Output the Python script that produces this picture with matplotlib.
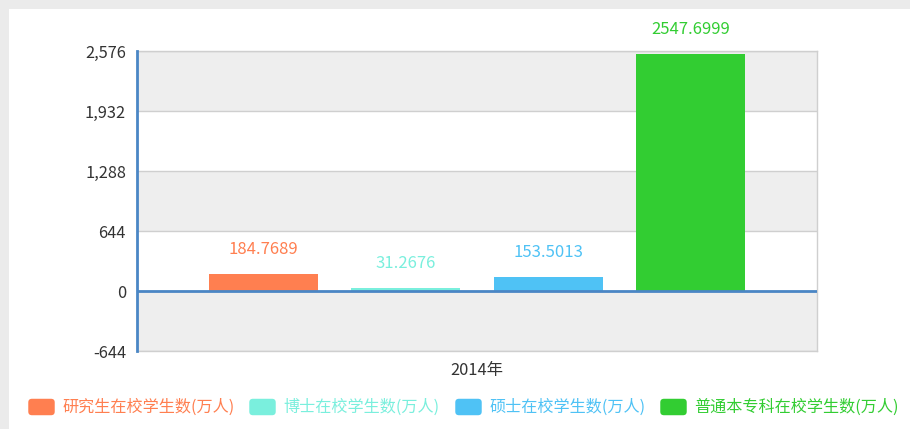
import matplotlib
matplotlib.use("Agg")
import matplotlib.pyplot as plt
from matplotlib.patches import FancyBboxPatch, Rectangle
from matplotlib.ticker import FuncFormatter

plt.rcParams['font.family'] = ['Noto Sans CJK SC', 'DejaVu Sans']

category = "2014年"
series_names = ["研究生在校学生数(万人)", "博士在校学生数(万人)", "硕士在校学生数(万人)", "普通本专科在校学生数(万人)"]
values = [184.7689, 31.2676, 153.5013, 2547.6999]
value_labels = ["184.7689", "31.2676", "153.5013", "2547.6999"]
colors = ["#ff7f50", "#7aefdd", "#4fc2f5", "#32cd32"]
y_ticks = [-644, 0, 644, 1288, 1932, 2576]

W, H = 910, 429
fig = plt.figure(figsize=(W / 100, H / 100), dpi=100)
fig.patch.set_facecolor("#ebebeb")
fig.patches.append(Rectangle((9 / W, 0), 1, (H - 9) / H, transform=fig.transFigure,
                             facecolor="white", edgecolor="none", zorder=-5))

x0, x1, yt, yb = 137, 817, 51, 351
ax = fig.add_axes([x0 / W, (H - yb) / H, (x1 - x0) / W, (yb - yt) / H])
ax.set_facecolor("white")

# alternating bands
for i in range(len(y_ticks) - 1):
    if (len(y_ticks) - 2 - i) % 2 == 0:
        ax.axhspan(y_ticks[i], y_ticks[i + 1], color="#eeeeee", zorder=0, lw=0)
for t in y_ticks:
    ax.axhline(t, color="#cfcfcf", lw=1, zorder=1)

n = len(values)
pos = [i - (n - 1) / 2 for i in range(n)]
width = 0.765
ax.bar(pos, values, width=width, color=colors, zorder=2)
for p, v, lab, c in zip(pos, values, value_labels, colors):
    ax.annotate(lab, (p, v), xytext=(0, 17.5), textcoords="offset points",
                ha="center", va="center", color=c, fontsize=12)

ax.axhline(0, color="#4a86c5", lw=2, zorder=3)
ax.set_xlim(-2.386, 2.386)
ax.set_ylim(y_ticks[0], y_ticks[-1])
ax.set_yticks(y_ticks)
ax.yaxis.set_major_formatter(FuncFormatter(lambda v, p: f"{int(v):,}"))
ax.tick_params(axis="y", length=0, pad=8, labelsize=11.8, labelcolor="#333333")
ax.set_xticks([0])
ax.set_xticklabels([category])
ax.tick_params(axis="x", length=0, pad=8, labelsize=11.8, labelcolor="#333333")
for s in ["top", "right", "bottom"]:
    ax.spines[s].set_color("#cfcfcf")
    ax.spines[s].set_linewidth(1)
ax.spines["left"].set_color("#4a86c5")
ax.spines["left"].set_linewidth(2)
ax.spines["left"].set_zorder(4)

# legend
box_x = [28, 249, 455, 660]
box_w, box_h = 27, 17
box_yc = 407
for bx, name, c in zip(box_x, series_names, colors):
    fig.patches.append(FancyBboxPatch(((bx + 3) / W, (H - box_yc - box_h / 2 + 3) / H),
                                      (box_w - 6) / W, (box_h - 6) / H,
                                      boxstyle="round,pad=0.003,rounding_size=0.004",
                                      mutation_aspect=W / H,
                                      transform=fig.transFigure, facecolor=c, edgecolor="none"))
    fig.text((bx + box_w + 7) / W, (H - box_yc) / H, name, color=c, fontsize=11.6,
             ha="left", va="center")

fig.savefig("out.png", dpi=100, facecolor=fig.get_facecolor())
